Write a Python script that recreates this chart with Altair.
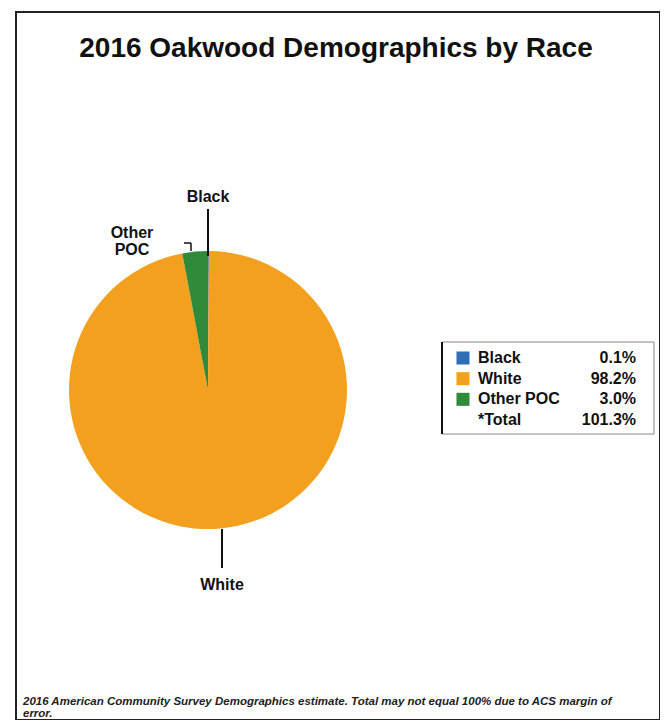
import altair as alt
import pandas as pd

races = ["Black", "White", "Other POC"]
pct = [0.1, 98.2, 3.0]
colors = ["#2f6fb8", "#f2a01e", "#2f8a3a"]
legend_labels = ["Black", "White", "Other POC", "*Total"]
legend_values = ["0.1%", "98.2%", "3.0%", "101.3%"]
title = "2016 Oakwood Demographics by Race"
footnote = ["2016 American Community Survey Demographics estimate. Total may not equal 100% due to ACS margin of",
            "error."]

FONT = "Liberation Sans"
NARROW = "Liberation Sans Narrow, Arial Narrow, Liberation Sans"

pie_df = pd.DataFrame({"race": races, "pct": pct, "idx": list(range(len(races)))})
leg_df = pd.DataFrame({"label": legend_labels, "value": legend_values,
                       "row": list(range(len(legend_labels)))})
sw_df = pd.DataFrame({"race": races, "row": list(range(len(races)))})

W, H = 644, 708
CX, CY = 192, 378

color_scale = alt.Scale(domain=races, range=colors)

pie = alt.Chart(pie_df).mark_arc(outerRadius=139).encode(
    theta=alt.Theta("pct:Q", stack=True),
    color=alt.Color("race:N", scale=color_scale, legend=None),
    order=alt.Order("idx:Q"),
    x=alt.value(CX), y=alt.value(CY),
)

title_mark = alt.Chart(pd.DataFrame({"t": [title]})).mark_text(
    font=FONT, fontSize=28, fontWeight="bold", color="#111"
).encode(text="t:N", x=alt.value(W / 2 - 2), y=alt.value(37))

black_lbl = alt.Chart(pd.DataFrame({"t": ["Black"]})).mark_text(
    font=NARROW, fontSize=16, fontWeight="bold", color="#111"
).encode(text="t:N", x=alt.value(192), y=alt.value(185))
white_lbl = alt.Chart(pd.DataFrame({"t": ["White"]})).mark_text(
    font=NARROW, fontSize=16, fontWeight="bold", color="#111"
).encode(text="t:N", x=alt.value(206), y=alt.value(573))
poc_lbl = alt.Chart(pd.DataFrame({"t": [["Other", "POC"]]})).mark_text(
    font=NARROW, fontSize=16, fontWeight="bold", color="#111", align="center", lineHeight=17
).encode(text="t", x=alt.value(116), y=alt.value(221))

black_line = alt.Chart(pd.DataFrame({"a": [0]})).mark_rule(color="#111", strokeWidth=2).encode(
    x=alt.value(192), x2=alt.value(192), y=alt.value(197), y2=alt.value(244))
white_line = alt.Chart(pd.DataFrame({"a": [0]})).mark_rule(color="#111", strokeWidth=2).encode(
    x=alt.value(206), x2=alt.value(206), y=alt.value(517), y2=alt.value(556))
poc_h = alt.Chart(pd.DataFrame({"a": [0]})).mark_rule(color="#111", strokeWidth=1.5).encode(
    x=alt.value(168), x2=alt.value(175), y=alt.value(231), y2=alt.value(231))
poc_v = alt.Chart(pd.DataFrame({"a": [0]})).mark_rule(color="#111", strokeWidth=1.5).encode(
    x=alt.value(175), x2=alt.value(175), y=alt.value(231), y2=alt.value(239))

box = alt.Chart(pd.DataFrame({"a": [0]})).mark_rect(
    fill="white", stroke="#888", strokeWidth=1
).encode(x=alt.value(426), x2=alt.value(638), y=alt.value(330), y2=alt.value(422))
box_left = alt.Chart(pd.DataFrame({"a": [0]})).mark_rule(color="#111", strokeWidth=2).encode(
    x=alt.value(426), x2=alt.value(426), y=alt.value(330), y2=alt.value(422))

row_scale = alt.Scale(domain=[0, 3], range=[346, 408])
swatch = alt.Chart(sw_df).mark_square(size=170, opacity=1).encode(
    x=alt.value(447), y=alt.Y("row:Q", scale=row_scale, axis=None),
    color=alt.Color("race:N", scale=color_scale, legend=None),
)
leg_text = alt.Chart(leg_df).mark_text(
    font=NARROW, fontSize=16, fontWeight="bold", align="left", color="#111"
).encode(x=alt.value(462), y=alt.Y("row:Q", scale=row_scale, axis=None), text="label:N")
leg_val = alt.Chart(leg_df).mark_text(
    font=NARROW, fontSize=16, fontWeight="bold", align="right", color="#111"
).encode(x=alt.value(620), y=alt.Y("row:Q", scale=row_scale, axis=None), text="value:N")

foot = alt.Chart(pd.DataFrame({"t": [footnote]})).mark_text(
    font=NARROW, fontSize=11.5, fontStyle="italic", fontWeight="bold", align="left",
    color="#222", lineHeight=12
).encode(text="t", x=alt.value(7), y=alt.value(690))

chart = alt.layer(
    pie, title_mark, black_line, white_line, poc_h, poc_v, black_lbl, white_lbl, poc_lbl,
    box, box_left, swatch, leg_text, leg_val, foot
).properties(
    width=W, height=H, autosize="none",
    padding={"left": 8, "top": 4, "right": 0, "bottom": 0},
).configure_view(stroke="#222", strokeWidth=2)

chart.save("out.html", embed_options={"renderer": "svg", "actions": False})
